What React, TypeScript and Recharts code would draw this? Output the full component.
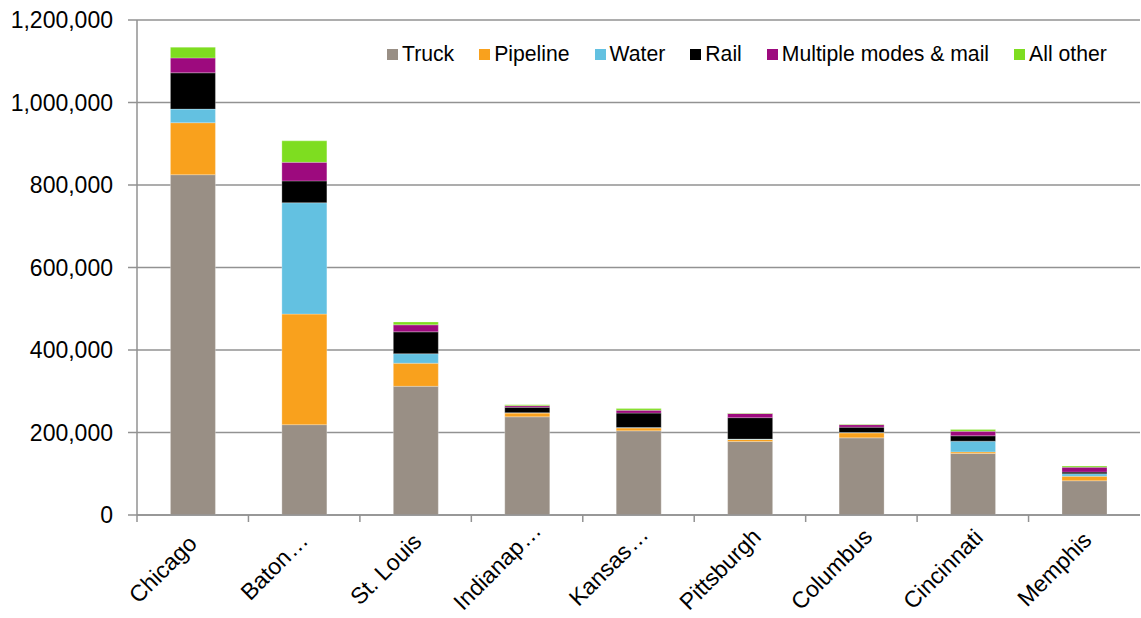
import React from 'react';
import { BarChart, Bar, XAxis, YAxis, CartesianGrid } from 'recharts';

const categories = ['Chicago', 'Baton…', 'St. Louis', 'Indianap…', 'Kansas…', 'Pittsburgh', 'Columbus', 'Cincinnati', 'Memphis'];
const truck = [825000, 219000, 312000, 238000, 204000, 178000, 187000, 149000, 83000];
const pipeline = [126000, 268000, 56000, 9000, 7000, 5000, 12000, 4000, 11000];
const water = [33000, 270000, 23000, 1000, 1000, 1000, 1000, 26000, 6000];
const rail = [88000, 53000, 53000, 13000, 35000, 52000, 13000, 13000, 4000];
const multiple = [36000, 45000, 17000, 4000, 7000, 10000, 6000, 11000, 12000];
const allOther = [26000, 52000, 7000, 2000, 4000, 1000, 1000, 4000, 3000];
const yTicks = [0, 200000, 400000, 600000, 800000, 1000000, 1200000];

const series = [
  { key: 'truck', name: 'Truck', color: '#998f85', values: truck },
  { key: 'pipeline', name: 'Pipeline', color: '#f9a11d', values: pipeline },
  { key: 'water', name: 'Water', color: '#63c1e1', values: water },
  { key: 'rail', name: 'Rail', color: '#000000', values: rail },
  { key: 'multiple', name: 'Multiple modes & mail', color: '#9d0a7e', values: multiple },
  { key: 'allOther', name: 'All other', color: '#7edd20', values: allOther },
];

const data = categories.map((name, i) => {
  const row: any = { name };
  series.forEach((s) => {
    row[s.key] = s.values[i];
  });
  return row;
});

const FONT = '"Liberation Sans", Arial, sans-serif';
const GRID = '#929292';
const WIDTH = 1141;
const HEIGHT = 618;
const LEFT = 137;
const RIGHT = 1;
const band = (WIDTH - LEFT - RIGHT) / categories.length;

// category label (rotated about its middle, like Excel) plus a tick mark on the left edge of each band
const CategoryTick = ({ x, y, payload }: any) => {
  const label: string = payload.value;
  const cut = label.endsWith('…');
  const body = cut ? label.slice(0, -1) : label;
  return (
    <g>
      <line x1={x - band / 2} y1={y - 8} x2={x - band / 2} y2={y - 1} stroke={GRID} strokeWidth={1.5} />
      <text
        x={0}
        y={0}
        dy="0.35em"
        transform={`translate(${x - 30},${y + (cut ? 43 : 46)}) rotate(-45)`}
        textAnchor="middle"
        fontSize={23}
        fontFamily={FONT}
        fill="#000"
      >
        {body}
        {cut && <tspan dx={1}>…</tspan>}
      </text>
    </g>
  );
};

export default function App() {
  return (
    <div style={{ position: 'absolute', left: 0, top: 0, width: WIDTH, height: HEIGHT, background: '#fff' }}>
      <BarChart
        width={WIDTH}
        height={HEIGHT}
        data={data}
        margin={{ top: 20, right: RIGHT, left: 0, bottom: 0 }}
        barCategoryGap="30%"
      >
        <CartesianGrid vertical={false} stroke={GRID} strokeWidth={1.5} />
        <XAxis
          dataKey="name"
          height={103}
          interval={0}
          tickLine={false}
          axisLine={{ stroke: GRID, strokeWidth: 1.5 }}
          tick={<CategoryTick />}
        />
        <YAxis
          width={LEFT}
          domain={[0, 1200000]}
          ticks={yTicks}
          interval={0}
          tickSize={9}
          tickMargin={15}
          tickLine={{ stroke: GRID, strokeWidth: 1.5 }}
          axisLine={{ stroke: GRID, strokeWidth: 1.5 }}
          tick={{ fontSize: 23, fontFamily: FONT, fill: '#000' }}
          tickFormatter={(v: number) => v.toLocaleString('en-US')}
        />
        {series.map((s) => (
          <Bar
            key={s.key}
            dataKey={s.key}
            name={s.name}
            stackId="a"
            fill={s.color}
            stroke="#ffffff"
            strokeOpacity={0.35}
            strokeWidth={0.75}
            isAnimationActive={false}
          />
        ))}
      </BarChart>
      <div
        style={{
          position: 'absolute',
          left: 387,
          top: 42,
          display: 'flex',
          alignItems: 'center',
          fontFamily: FONT,
          fontSize: 21.2,
          color: '#000',
          whiteSpace: 'nowrap',
        }}
      >
        {series.map((s) => (
          <div key={s.key} style={{ display: 'flex', alignItems: 'center', marginRight: 25 }}>
            <span style={{ width: 11, height: 11, background: s.color, display: 'inline-block', marginRight: 4 }} />
            <span>{s.name}</span>
          </div>
        ))}
      </div>
    </div>
  );
}
